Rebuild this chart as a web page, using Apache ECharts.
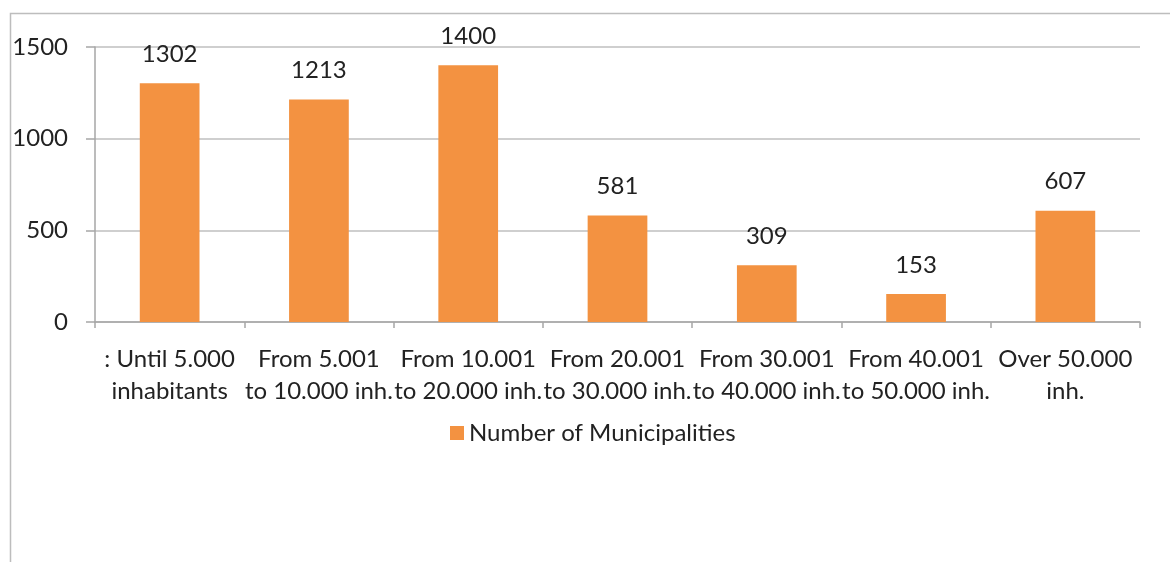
<!DOCTYPE html>
<html>
<head>
<meta charset="utf-8">
<script src="https://cdn.jsdelivr.net/npm/echarts@6/dist/echarts.min.js"></script>
<style>
  html, body { margin: 0; padding: 0; background: #fff; }
  #chart { width: 1170px; height: 562px; }
</style>
</head>
<body>
<div id="chart"></div>
<script>
// Municipalities grouped by population size
const categories = [
  ': Until 5.000\ninhabitants',
  'From 5.001\nto 10.000 inh.',
  'From 10.001\nto 20.000 inh.',
  'From 20.001\nto 30.000 inh.',
  'From 30.001\nto 40.000 inh.',
  'From 40.001\nto 50.000 inh.',
  'Over 50.000\ninh.'
];
const municipalities = [1302, 1213, 1400, 581, 309, 153, 607];
const seriesName = 'Number of Municipalities';

const FONT = 'Lato, "Open Sans", sans-serif';
const TEXT = '#222';
const ORANGE = '#F39241';
const FS = 24;

const chart = echarts.init(document.getElementById('chart'), null, { renderer: 'canvas' });
chart.setOption({
  animation: false,
  backgroundColor: '#fff',
  graphic: [{
    type: 'rect',
    shape: { x: 10.5, y: 13.5, width: 1300, height: 700 },
    style: { fill: 'none', stroke: '#BDBDBD', lineWidth: 1.5 },
    silent: true
  }],
  grid: { left: 95, right: 30, top: 47, bottom: 240, containLabel: false },
  legend: {
    data: [seriesName],
    left: 450,
    top: 421,
    padding: 0,
    itemWidth: 14,
    itemHeight: 14,
    itemGap: 7,
    icon: 'rect',
    textStyle: { fontFamily: FONT, fontSize: FS, color: TEXT }
  },
  xAxis: {
    type: 'category',
    data: categories,
    axisLine: { lineStyle: { color: '#A6A6A6', width: 1.5 } },
    axisTick: { show: true, alignWithLabel: false, length: 6, lineStyle: { color: '#A6A6A6', width: 1.5 } },
    axisLabel: {
      interval: 0, margin: 21, fontFamily: FONT, fontSize: FS, color: TEXT,
      lineHeight: 32, align: 'center'
    },
    splitLine: { show: false }
  },
  yAxis: {
    type: 'value',
    min: 0, max: 1500, interval: 500,
    axisLine: { show: true, lineStyle: { color: '#A6A6A6', width: 1.5 } },
    axisTick: { show: true, length: 9, lineStyle: { color: '#A6A6A6', width: 1.5 } },
    axisLabel: {
      margin: 27, fontFamily: FONT, fontSize: FS, color: TEXT,
      formatter: v => String(v)
    },
    splitLine: { show: true, lineStyle: { color: '#BFBFBF', width: 1.5 } }
  },
  series: [{
    name: seriesName,
    type: 'bar',
    data: municipalities,
    barWidth: '40%',
    itemStyle: { color: ORANGE },
    label: {
      show: true, position: 'top', distance: 17,
      fontFamily: FONT, fontSize: FS, color: TEXT
    }
  }]
});
</script>
</body>
</html>
